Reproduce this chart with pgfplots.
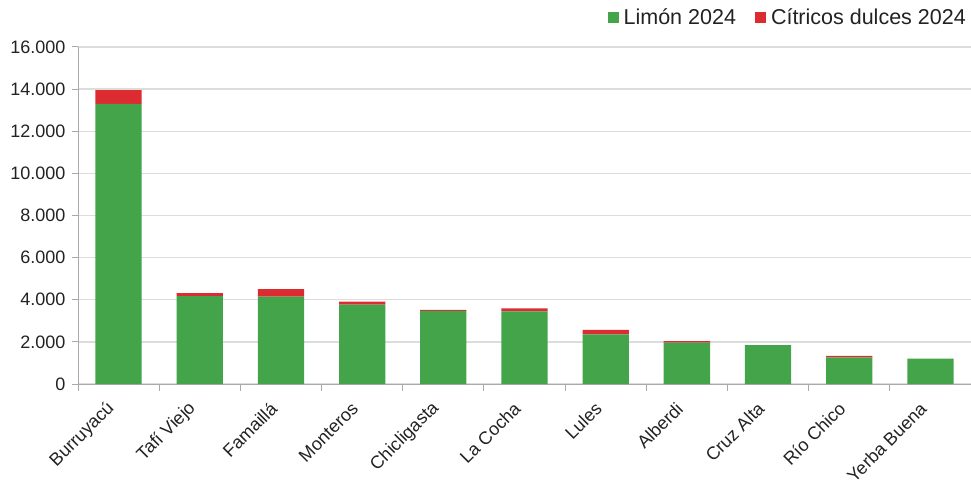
\documentclass[border=0pt]{standalone}
\usepackage{fontspec}
\setmainfont{Liberation Sans}
\usepackage{pgfplots}
\pgfplotsset{compat=1.18}
\definecolor{lim}{HTML}{43A44A}
\definecolor{dul}{HTML}{DD2B32}
\definecolor{gridc}{HTML}{DCDCDC}
\definecolor{axc}{HTML}{AAAAAA}
\definecolor{txt}{HTML}{222222}
\begin{document}
\begin{tikzpicture}
\begin{axis}[
  at={(78pt,106pt)}, anchor=south west,
  scale only axis, width=893pt, height=337pt,
  ybar stacked, bar width=0.57,
  xmin=-0.5, xmax=10.5, ymin=0, ymax=16000,
  xtick={0,...,10},
  xticklabels={Burruyacú, Tafí Viejo, Famaillá, Monteros, Chicligasta, La Cocha, Lules, Alberdi, Cruz Alta, Río Chico, Yerba Buena},
  minor xtick={-0.5,0.5,...,10.5},
  ytick={0,2000,...,16000},
  scaled y ticks=false,
  ymajorgrids, major grid style={gridc, line width=1.3pt},
  axis x line*=bottom, axis y line*=left,
  axis line style={axc, line width=1pt, -},
  tick align=outside,
  major x tick style={draw=none},
  minor x tick style={axc, line width=1pt},
  major y tick style={axc, line width=1pt},
  major tick length=6pt, minor tick length=7pt,
  /pgf/number format/.cd, 1000 sep={.}, assume math mode=true, /pgfplots/.cd,
  tick label style={font=\fontsize{18}{21}\selectfont, text=txt},
  yticklabel style={xshift=-3pt},
  xticklabel style={rotate=45, anchor=east, yshift=-6pt, inner xsep=16pt},
  legend style={at={(1,1)}, anchor=south east, yshift=19pt, draw=none, fill=none,
    font=\fontsize{21.5}{24}\selectfont, text=txt, inner sep=0pt,
    nodes={inner xsep=5pt},
    /tikz/every even column/.append style={column sep=14pt}},
  legend columns=2,
  legend image code/.code={\draw[#1, draw=none] (0pt,-5.5pt) rectangle (11pt,5.5pt);},
]
\addplot[fill=lim, draw=none] coordinates {(0,13300) (1,4170) (2,4150) (3,3770) (4,3470) (5,3450) (6,2360) (7,1960) (8,1850) (9,1270) (10,1200)};
\addplot[fill=dul, draw=none] coordinates {(0,650) (1,140) (2,350) (3,140) (4,50) (5,140) (6,210) (7,80) (8,0) (9,65) (10,0)};
\legend{Limón 2024, Cítricos dulces 2024}
\end{axis}
\pgfresetboundingbox
\useasboundingbox (0,0) rectangle (971pt,490pt);
\end{tikzpicture}
\end{document}
